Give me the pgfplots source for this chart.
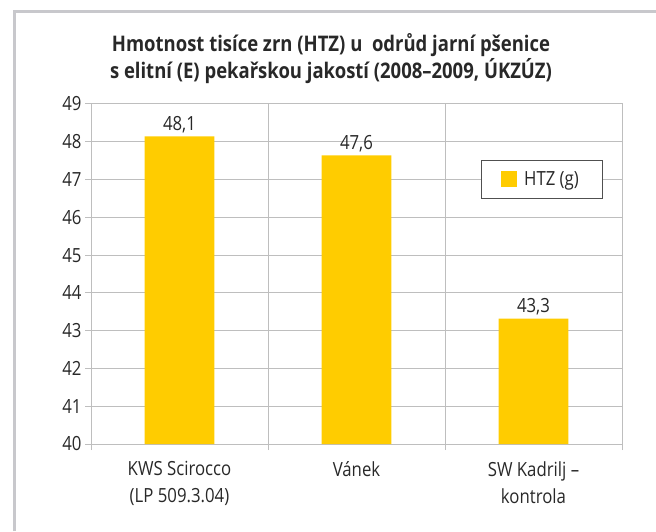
\documentclass[border=0pt]{standalone}
\usepackage{fontspec}
\setmainfont{Open Sans}[FakeStretch=0.86]
\usepackage{pgfplots}
\pgfplotsset{compat=1.18}
\definecolor{baryellow}{RGB}{255,204,0}
\definecolor{gridgray}{RGB}{190,190,190}
\definecolor{framegray}{RGB}{200,200,204}
\definecolor{legborder}{RGB}{80,80,80}
\definecolor{txt}{RGB}{40,40,40}
\begin{document}
\begin{tikzpicture}
\path[use as bounding box] (0pt,0pt) rectangle (656pt,531pt);
\draw[framegray, line width=3pt] (14.5pt,0pt) -- (14.5pt,519.5pt) -- (656pt,519.5pt);
\node[font=\fontsize{21.5}{27}\selectfont\bfseries, text=txt, align=center] at (331pt,472pt)
  {Hmotnost tisíce zrn (HTZ) u\ \ odrůd jarní pšenice\\s elitní (E) pekařskou jakostí (2008–2009, ÚKZÚZ)};
\begin{axis}[
  at={(91pt,87pt)}, anchor=south west,
  scale only axis, width=531pt, height=340pt,
  xmin=0, xmax=3, ymin=40, ymax=49,
  enlargelimits=false,
  ytick={40,41,...,49},
  xtick={0.5,1.5,2.5},
  xticklabels={{KWS Scirocco\\(LP 509.3.04)},{Vánek},{SW Kadrilj –\\kontrola}},
  minor xtick={0,1,2,3},
  xminorgrids=true, ymajorgrids=true,
  grid style={gridgray, line width=1pt},
  minor grid style={gridgray, line width=1pt},
  axis line style={gridgray, line width=1pt},
  tick align=outside, tick pos=left,
  major tick length=6pt, minor tick length=6pt,
  major x tick style={draw=none},
  every tick/.style={gridgray, line width=1pt},
  minor x tick style={gridgray, line width=1pt},
  y tick style={gridgray, line width=1pt},
  /pgf/number format/assume math mode=true,
  ticklabel style={font=\fontsize{19.5}{27}\selectfont, text=txt},
  xticklabel style={align=center, yshift=-8pt},
  ybar, bar width=0.395, bar shift=0pt,
  nodes near coords,
  every node near coord/.append style={font=\fontsize{19.5}{20}\selectfont, text=txt,
    /pgf/number format/.cd, use comma, fixed, fixed zerofill, precision=1, assume math mode=true},
  legend style={at={(0.734,0.835)}, anchor=north west, draw=legborder, line width=0.8pt, fill=white,
    inner xsep=20pt, inner ysep=9pt, font=\fontsize{19.5}{20}\selectfont, text=txt,
    column sep=3pt, nodes={inner xsep=4pt}},
  legend image code/.code={\fill[baryellow] (0pt,-7.5pt) rectangle (16pt,8.5pt);},
]
\addplot[fill=baryellow, draw=none] coordinates {(0.5,48.14) (1.5,47.64) (2.5,43.32)};
\addlegendentry{HTZ (g)}
\end{axis}
\end{tikzpicture}
\end{document}
